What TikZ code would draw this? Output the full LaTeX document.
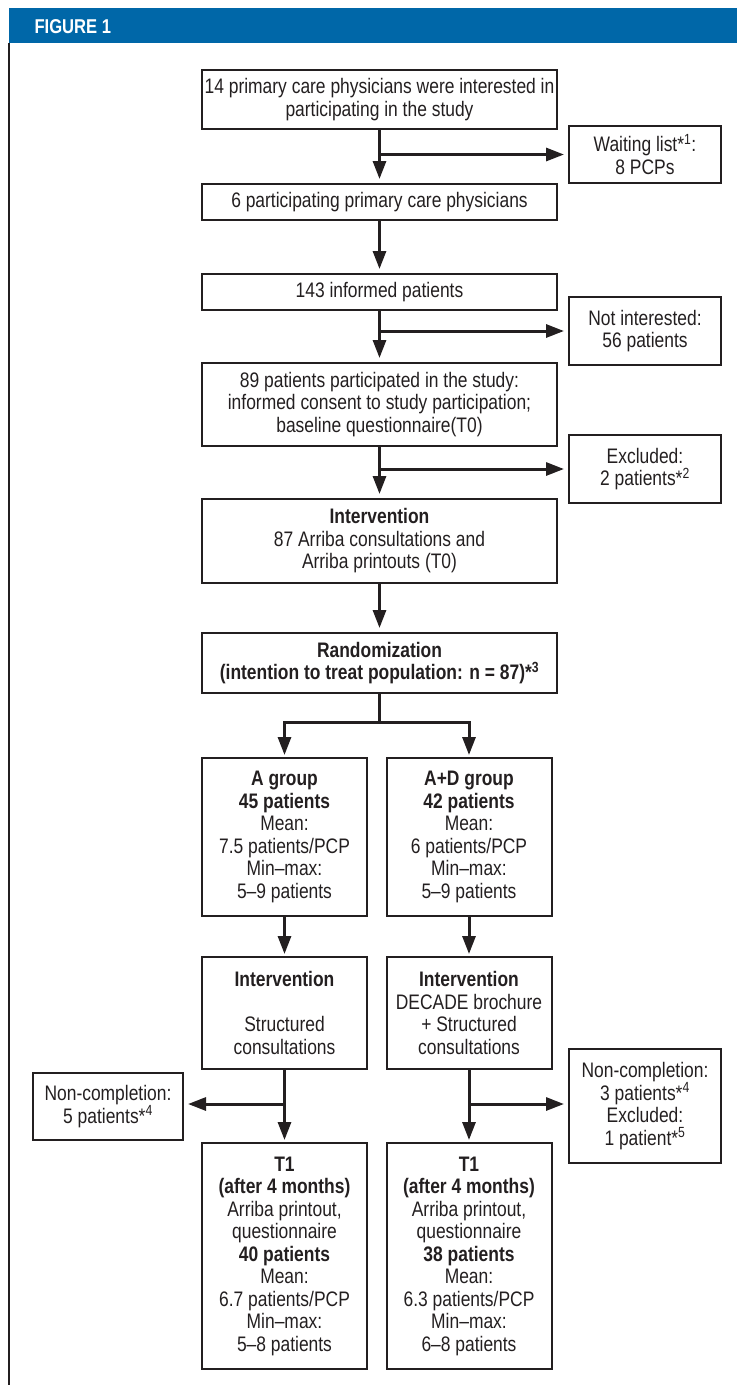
\documentclass[tikz,border=0pt]{standalone}
\usepackage{fontspec}
\setmainfont{Liberation Sans}[FakeStretch=0.83]
\usetikzlibrary{arrows.meta}

\definecolor{figblue}{RGB}{0,103,168}
\definecolor{ink}{RGB}{35,31,32}

\begin{document}
\begin{tikzpicture}[
      x=1pt, y=-1pt, % one unit per pixel of the page, y running down
      font=\fontsize{21}{22.5}\selectfont,
      box/.style={draw=ink, line width=2pt, align=center, inner sep=2pt, text=ink},
      main box/.style={box, minimum width=355pt},
      side box/.style={box, minimum width=152pt},
      column box/.style={box, minimum width=165pt},
      flow/.style={draw=ink, line width=3pt},
      flow arrow/.style={flow, -{Triangle[length=18pt,width=13pt]}, shorten >=4pt}
    ]

    \useasboundingbox (0,0) rectangle (737,1385);

    % Header bar and frame line
    \fill[figblue] (9,8) rectangle (737,43);
    \node[anchor=base west, text=white, font=\fontsize{20}{22}\selectfont\bfseries] (title) at (31,33) {FIGURE 1};
    \draw[ink, line width=2pt] (9,43) -- (9,1385);

    % Main column
    \node[main box, minimum height=59pt] (interested) at (379.5,99.5)
      {14 primary care physicians were interested in\\participating in the study};
    \node[main box, minimum height=36pt] (participating) at (379.5,202)
      {6 participating primary care physicians};
    \node[main box, minimum height=36pt] (informed) at (379.5,292)
      {143 informed patients};
    \node[main box, minimum height=83pt] (participated) at (379.5,404.5)
      {89 patients participated in the study:\\informed consent to study participation;\\baseline questionnaire(T0)};
    \node[main box, minimum height=84pt] (intervention) at (379.5,541)
      {\textbf{Intervention}\\87 Arriba consultations and\\Arriba printouts (T0)};
    \node[main box, minimum height=60pt] (randomization) at (379.5,663)
      {\textbf{Randomization}\\\textbf{(intention to treat population: n = 87)*\textsuperscript{3}}};

    % Side boxes on the right
    \node[side box, minimum height=57pt] (waitlist) at (645,154.5)
      {Waiting list*\textsuperscript{1}:\\8 PCPs};
    \node[side box, minimum height=68pt] (notinterested) at (645,331)
      {Not interested:\\56 patients};
    \node[side box, minimum height=68pt] (excluded) at (645,469)
      {Excluded:\\2 patients*\textsuperscript{2}};

    % The two groups
    \node[column box, minimum height=158pt] (groupA) at (284.5,837)
      {\textbf{A group}\\\textbf{45 patients}\\Mean:\\7.5 patients/PCP\\Min–max:\\5–9 patients};
    \node[column box, minimum height=158pt] (groupAD) at (469,837)
      {\textbf{A+D group}\\\textbf{42 patients}\\Mean:\\6 patients/PCP\\Min–max:\\5–9 patients};
    \node[column box, minimum height=112pt] (interventionA) at (284.5,1013)
      {\textbf{Intervention}\\[22.5pt]Structured\\consultations};
    \node[column box, minimum height=112pt] (interventionAD) at (469,1013)
      {\textbf{Intervention}\\DECADE brochure\\+ Structured\\consultations};
    \node[side box, minimum width=150pt, minimum height=67pt] (noncompA) at (108,1106.5)
      {Non-completion:\\5 patients*\textsuperscript{4}};
    \node[side box, minimum height=114pt] (noncompAD) at (645,1106)
      {Non-completion:\\3 patients*\textsuperscript{4}\\Excluded:\\1 patient*\textsuperscript{5}};
    \node[column box, minimum height=226pt] (followA) at (284.5,1256)
      {\textbf{T1}\\\textbf{(after 4 months)}\\Arriba printout,\\questionnaire\\\textbf{40 patients}\\Mean:\\6.7 patients/PCP\\Min–max:\\5–8 patients};
    \node[column box, minimum height=226pt] (followAD) at (469,1256)
      {\textbf{T1}\\\textbf{(after 4 months)}\\Arriba printout,\\questionnaire\\\textbf{38 patients}\\Mean:\\6.3 patients/PCP\\Min–max:\\6–8 patients};

    % Arrows down the main column
    \draw[flow arrow] (interested) -- (participating);
    \draw[flow arrow] (interested.south |- waitlist.west) -- (waitlist);
    \draw[flow arrow] (participating) -- (informed);
    \draw[flow arrow] (informed) -- (participated);
    \draw[flow arrow] (informed.south |- notinterested.west) -- (notinterested);
    \draw[flow arrow] (participated) -- (intervention);
    \draw[flow arrow] (participated.south |- excluded.west) -- (excluded);
    \draw[flow arrow] (intervention) -- (randomization);

    % Split into the two groups
    \coordinate (split) at (379.5,722);
    \draw[flow] (randomization) -- (split);
    \draw[flow, {Triangle[length=18pt,width=13pt]}-{Triangle[length=18pt,width=13pt]}, shorten <=2pt, shorten >=2pt]
      (groupA.north) |- (split) -| (groupAD.north);

    % Arrows down each group
    \draw[flow arrow, shorten >=2pt] (groupA) -- (interventionA);
    \draw[flow arrow, shorten >=2pt] (groupAD) -- (interventionAD);
    \draw[flow arrow, shorten >=2pt] (interventionA) -- (followA);
    \draw[flow arrow, shorten >=2pt] (interventionAD) -- (followAD);
    \coordinate (dropA) at (interventionA.south |- 0,1104);
    \coordinate (dropAD) at (interventionAD.south |- 0,1104);
    \draw[flow arrow] (dropA) -- (noncompA.east |- dropA);
    \draw[flow arrow] (dropAD) -- (noncompAD.west |- dropAD);

  \end{tikzpicture}
\end{document}
